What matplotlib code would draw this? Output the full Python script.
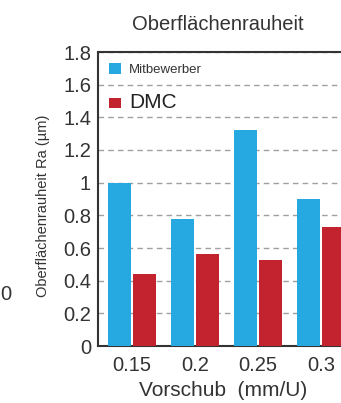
import numpy as np
import matplotlib
matplotlib.use("Agg")
import matplotlib.pyplot as plt

#==============================
# Daten
#==============================
vorschub = ["0.15", "0.2", "0.25", "0.3"]
mitbewerber = [1.0, 0.78, 1.32, 0.90]
dmc = [0.44, 0.563, 0.527, 0.73]

blau = "#25a9e0"
rot = "#c3222f"

plt.rcParams["font.family"] = ["Liberation Sans", "DejaVu Sans"]

#==============================
# Figur
#==============================
fig = plt.figure(figsize=(3.41, 4.03), dpi=100)
# Achse geht rechts über den Bildrand hinaus (Ausschnitt)
ax = fig.add_axes([98 / 341, 57 / 403, 272 / 341, 294 / 403])

x = np.arange(len(vorschub))
b1 = ax.bar(x - 0.2, mitbewerber, width=0.365, color=blau, zorder=3, label="Mitbewerber")
b2 = ax.bar(x + 0.2, dmc, width=0.365, color=rot, zorder=3, label="DMC")

ax.set_xlim(-0.54, 3.78)
ax.set_ylim(0, 1.8)
ax.set_yticks(np.arange(0, 1.81, 0.2))
ax.set_yticklabels(["0", "0.2", "0.4", "0.6", "0.8", "1", "1.2", "1.4", "1.6", "1.8"])
ax.set_xticks(x)
ax.set_xticklabels(vorschub)
ax.tick_params(length=0, labelsize=14.5, colors="#333333")
ax.tick_params(axis="y", pad=5)
ax.tick_params(axis="x", pad=7)
ax.yaxis.grid(True, linestyle=(0, (4, 3)), color="#a0a0a0", linewidth=1, zorder=0)

for s in ["left", "bottom", "top"]:
    ax.spines[s].set_color("#333333")
    ax.spines[s].set_linewidth(1.5)
ax.spines["right"].set_visible(False)

#==============================
# Legende
#==============================
leg = ax.legend(loc="upper left", bbox_to_anchor=(0.0, 1.0), frameon=False,
                fontsize=9.5, handlelength=0.9, handleheight=0.85, handletextpad=0.6,
                labelspacing=1.25, borderaxespad=0.45)
leg.get_texts()[0].set_color("#333333")
leg.get_texts()[1].set_fontsize(15)
leg.get_texts()[1].set_color("#222222")

#==============================
# Texte
#==============================
fig.text(218 / 341, 1 - 25 / 403, "Oberflächenrauheit", ha="center", va="center",
         fontsize=14.5, color="#333333")
fig.text(43 / 341, 1 - 206 / 403, "Oberflächenrauheit Ra (µm)", rotation=90,
         ha="center", va="center", fontsize=10.5, color="#333333")
fig.text(223 / 341, 1 - 390 / 403, "Vorschub  (mm/U)", ha="center", va="center",
         fontsize=15, color="#333333")
# Rest vom Nachbardiagramm am linken Rand
fig.text(11 / 341, 1 - 295 / 403, "0", ha="right", va="center", fontsize=14.5, color="#333333")

fig.savefig("out.png", dpi=100)
